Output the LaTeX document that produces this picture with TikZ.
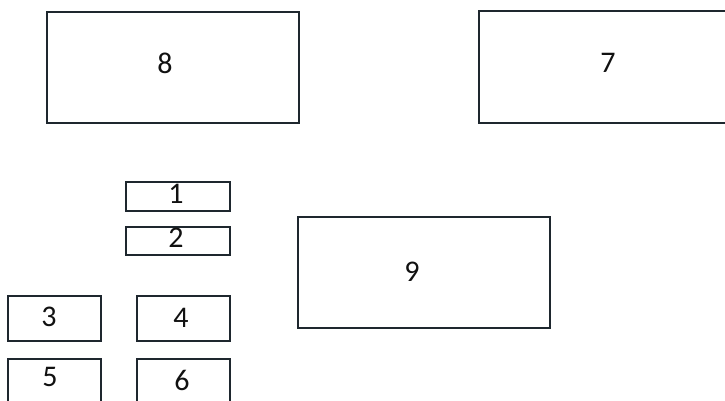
\documentclass[tikz,border=0pt]{standalone}
\usepackage{fontspec}
\setmainfont{Carlito}
\usepackage{tikz}
\definecolor{bayink}{HTML}{1E272E}
\definecolor{baytext}{HTML}{111111}

\begin{document}
\begin{tikzpicture}[x=1pt,y=-1pt,line join=miter,
  bay/.style={draw=bayink,line width=2.8pt},
  num/.style={inner sep=0pt,text=baytext,font=\fontsize{30}{36}\selectfont}]
\path[use as bounding box] (0,0) rectangle (725,401);
\fill[white] (0,0) rectangle (725,401);

% top row: the two big bays
\draw[bay] (47,12) rectangle (299,123);
\draw[bay] (479,11) rectangle (735,123);
\node[num] (n8) at (165,63) {8};
\node[num] (n7) at (608,63) {7};

% narrow strips 1 and 2
\draw[bay] (126,182) rectangle (230,211);
\draw[bay] (126,227) rectangle (230,255);
\node[num] (n1) at (176,194) {1};
\node[num] (n2) at (176,238) {2};

% middle bay
\draw[bay] (298,217) rectangle (550,328);
\node[num] (n9) at (412,272) {9};

% small bays at the bottom left (cut by the page edge)
\draw[bay] (8,296) rectangle (101,341);
\draw[bay] (137,296) rectangle (230,341);
\draw[bay] (8,359) rectangle (101,410);
\draw[bay] (137,359) rectangle (230,410);
\node[num] (n3) at (49,317) {3};
\node[num] (n4) at (181,318) {4};
\node[num] (n5) at (50,377) {5};
\node[num] (n6) at (182,380) {6};
\end{tikzpicture}
\end{document}
